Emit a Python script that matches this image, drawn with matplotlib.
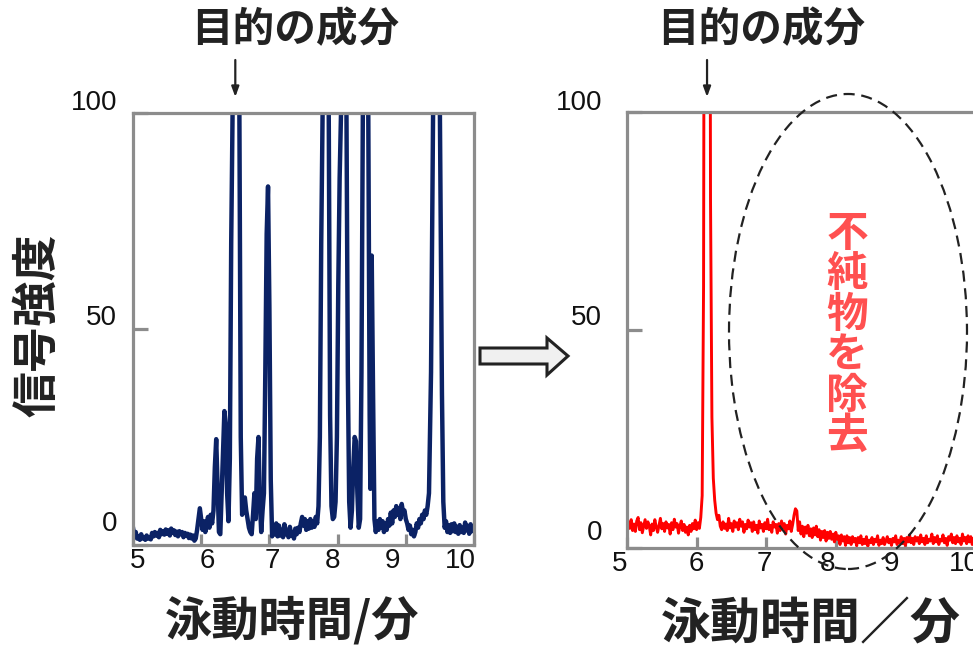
import matplotlib
matplotlib.use("Agg")
import matplotlib.pyplot as plt
import matplotlib.transforms as mtransforms
from matplotlib.patches import Ellipse, Polygon

# ---------------- data ----------------
left_t = [5.00, 5.02, 5.04, 5.06, 5.08, 5.10, 5.12, 5.14, 5.16, 5.18, 5.20, 5.22, 5.24, 5.26, 5.28,
          5.30, 5.32, 5.34, 5.36, 5.38, 5.40, 5.42, 5.44, 5.46, 5.48, 5.50, 5.52, 5.54, 5.56, 5.58,
          5.60, 5.62, 5.64, 5.66, 5.68, 5.70, 5.72, 5.74, 5.76, 5.78, 5.80, 5.82, 5.84, 5.86, 5.88,
          5.90, 5.92, 5.94, 5.96, 5.98, 6.00, 6.02, 6.04, 6.06, 6.08, 6.10, 6.12, 6.14, 6.16, 6.18,
          6.20, 6.22, 6.24, 6.26, 6.28, 6.30, 6.32, 6.34, 6.36, 6.38, 6.40, 6.42, 6.44, 6.46, 6.50,
          6.56, 6.58, 6.60, 6.62, 6.64, 6.66, 6.68, 6.70, 6.72, 6.74, 6.76, 6.78, 6.80, 6.82, 6.84,
          6.86, 6.88, 6.90, 6.92, 6.94, 6.96, 6.98, 7.00, 7.02, 7.04, 7.06, 7.08, 7.10, 7.12, 7.14,
          7.16, 7.18, 7.20, 7.22, 7.24, 7.26, 7.28, 7.30, 7.32, 7.34, 7.36, 7.38, 7.40, 7.42, 7.44,
          7.46, 7.48, 7.50, 7.52, 7.54, 7.56, 7.58, 7.60, 7.62, 7.64, 7.66, 7.68, 7.70, 7.72, 7.74,
          7.76, 7.78, 7.83, 7.87, 7.89, 7.91, 7.93, 7.95, 7.97, 7.99, 8.01, 8.03, 8.05, 8.09, 8.13,
          8.15, 8.17, 8.19, 8.21, 8.23, 8.25, 8.27, 8.29, 8.31, 8.33, 8.35, 8.37, 8.41, 8.45, 8.47,
          8.48, 8.50, 8.52, 8.54, 8.56, 8.58, 8.60, 8.62, 8.64, 8.66, 8.68, 8.70, 8.72, 8.74, 8.76,
          8.78, 8.80, 8.82, 8.84, 8.86, 8.88, 8.90, 8.92, 8.94, 8.96, 8.98, 9.00, 9.02, 9.04, 9.06,
          9.08, 9.10, 9.12, 9.14, 9.16, 9.18, 9.20, 9.22, 9.24, 9.26, 9.28, 9.30, 9.32, 9.34, 9.37,
          9.40, 9.45, 9.50, 9.53, 9.55, 9.57, 9.59, 9.61, 9.63, 9.65, 9.67, 9.69, 9.71, 9.73, 9.75,
          9.77, 9.79, 9.81, 9.83, 9.85, 9.87, 9.89, 9.91, 9.93, 9.95, 9.97, 10.00]
left_y = [4.0, 2.0, 3.0, 1.5, 2.0, 1.2, 2.5, 1.5, 1.8, 1.2, 2.2, 1.5, 1.8, 1.3, 2.8,
          2.0, 3.0, 2.2, 2.8, 1.8, 3.5, 2.5, 3.2, 2.4, 3.6, 2.6, 3.4, 2.2, 3.8, 2.8,
          3.4, 2.3, 3.1, 2.0, 3.2, 2.5, 3.0, 1.8, 2.8, 2.2, 2.6, 1.6, 2.4, 1.5, 2.2,
          1.0, 1.5, 3.5, 6.0, 8.5, 6.0, 3.5, 5.5, 3.0, 5.0, 6.5, 4.0, 7.0, 5.0, 8.0,
          18.0, 24.5, 14.0, 3.0, 2.5, 12.0, 22.0, 31.0, 28.0, 12.0, 5.5, 20.0, 70.0, 100.0, 300.0,
          100.0, 25.0, 7.0, 9.0, 11.0, 8.0, 6.0, 4.0, 3.0, 2.5, 7.0, 12.0, 6.0, 20.0, 25.0,
          10.0, 3.0, 8.0, 12.0, 40.0, 72.0, 83.0, 55.0, 15.0, 2.0, 4.0, 2.5, 5.0, 2.0, 4.5,
          2.2, 3.5, 1.8, 4.8, 2.5, 3.2, 1.8, 4.2, 2.2, 3.0, 1.5, 3.8, 2.5, 4.0, 3.0,
          5.0, 6.5, 4.5, 6.0, 3.5, 5.5, 3.8, 6.0, 4.0, 5.5, 4.2, 6.5, 5.0, 9.0, 25.0,
          70.0, 100.0, 300.0, 100.0, 30.0, 9.0, 6.0, 6.5, 10.0, 25.0, 60.0, 85.0, 100.0, 300.0, 100.0,
          40.0, 10.0, 4.0, 8.0, 18.0, 25.0, 24.0, 12.0, 4.0, 6.0, 40.0, 100.0, 300.0, 100.0, 30.0,
          13.0, 67.0, 35.0, 6.0, 3.0, 5.5, 3.5, 6.0, 4.0, 5.5, 3.0, 5.0, 3.5, 6.0, 4.5,
          7.5, 5.0, 8.0, 6.5, 9.0, 7.0, 8.5, 6.0, 9.5, 7.5, 8.0, 6.0, 5.0, 3.5, 4.5,
          2.5, 3.5, 2.0, 3.0, 5.0, 4.0, 6.0, 5.0, 7.0, 6.0, 8.0, 7.0, 9.0, 12.0, 40.0,
          100.0, 300.0, 100.0, 35.0, 10.0, 4.0, 5.5, 3.0, 4.5, 2.8, 4.8, 3.2, 5.0, 3.0, 4.2,
          2.6, 4.6, 3.0, 4.0, 2.8, 5.2, 3.4, 4.4, 2.6, 4.8, 3.2, 4.0]

right_t = [5.00, 5.02, 5.04, 5.06, 5.08, 5.10, 5.12, 5.14, 5.16, 5.18, 5.20, 5.22, 5.24, 5.26, 5.28,
           5.30, 5.32, 5.34, 5.36, 5.38, 5.40, 5.42, 5.44, 5.46, 5.48, 5.50, 5.52, 5.54, 5.56, 5.58,
           5.60, 5.62, 5.64, 5.66, 5.68, 5.70, 5.72, 5.74, 5.76, 5.78, 5.80, 5.82, 5.84, 5.86, 5.88,
           5.90, 5.92, 5.94, 5.96, 5.98, 6.00, 6.02, 6.04, 6.06, 6.08, 6.10, 6.12, 6.15, 6.18, 6.20,
           6.22, 6.24, 6.26, 6.28, 6.30, 6.32, 6.34, 6.36, 6.38, 6.40, 6.42, 6.44, 6.46, 6.48, 6.50,
           6.52, 6.54, 6.56, 6.58, 6.60, 6.62, 6.64, 6.66, 6.68, 6.70, 6.72, 6.74, 6.76, 6.78, 6.80,
           6.82, 6.84, 6.86, 6.88, 6.90, 6.92, 6.94, 6.96, 6.98, 7.00, 7.02, 7.04, 7.06, 7.08, 7.10,
           7.12, 7.14, 7.16, 7.18, 7.20, 7.22, 7.24, 7.26, 7.28, 7.30, 7.32, 7.34, 7.36, 7.38, 7.40,
           7.42, 7.44, 7.46, 7.48, 7.50, 7.52, 7.54, 7.56, 7.58, 7.60, 7.62, 7.64, 7.66, 7.68, 7.70,
           7.72, 7.74, 7.76, 7.78, 7.80, 7.82, 7.84, 7.86, 7.88, 7.90, 7.92, 7.94, 7.96, 7.98, 8.00,
           8.02, 8.04, 8.06, 8.08, 8.10, 8.12, 8.14, 8.16, 8.18, 8.20, 8.22, 8.24, 8.26, 8.28, 8.30,
           8.32, 8.34, 8.36, 8.38, 8.40, 8.42, 8.44, 8.46, 8.48, 8.50, 8.52, 8.54, 8.56, 8.58, 8.60,
           8.62, 8.64, 8.66, 8.68, 8.70, 8.72, 8.74, 8.76, 8.78, 8.80, 8.82, 8.84, 8.86, 8.88, 8.90,
           8.92, 8.94, 8.96, 8.98, 9.00, 9.02, 9.04, 9.06, 9.08, 9.10, 9.12, 9.14, 9.16, 9.18, 9.20,
           9.22, 9.24, 9.26, 9.28, 9.30, 9.32, 9.34, 9.36, 9.38, 9.40, 9.42, 9.44, 9.46, 9.48, 9.50,
           9.52, 9.54, 9.56, 9.58, 9.60, 9.62, 9.64, 9.66, 9.68, 9.70, 9.72, 9.74, 9.76, 9.78, 9.80,
           9.82, 9.84, 9.86, 9.88, 9.90, 9.92, 9.94, 9.96, 9.98, 10.00]
right_y = [3.5, 6.0, 4.5, 6.5, 4.0, 5.5, 3.8, 6.2, 7.0, 4.2, 5.8, 3.5, 5.0, 6.5, 4.5,
           6.0, 5.0, 3.0, 5.5, 4.0, 6.5, 4.8, 3.6, 5.2, 6.8, 4.4, 5.6, 3.8, 6.0, 4.6,
           5.4, 3.2, 5.8, 4.2, 6.6, 4.8, 5.6, 3.4, 5.0, 6.2, 4.0, 5.4, 3.6, 4.8, 3.0,
           5.2, 3.8, 5.6, 4.4, 6.4, 4.2, 5.8, 4.5, 7.0, 12.0, 60.0, 250.0, 400.0, 250.0, 80.0,
           30.0, 16.0, 11.0, 8.0, 6.5, 7.5, 5.0, 4.2, 6.0, 4.5, 5.5, 4.0, 6.8, 4.6, 5.6,
           3.8, 6.2, 4.8, 5.8, 4.2, 6.6, 5.0, 6.0, 3.6, 5.4, 4.4, 6.4, 4.8, 5.8, 3.8,
           6.0, 4.2, 5.2, 3.4, 6.2, 4.6, 5.4, 3.8, 5.8, 4.4, 6.6, 4.2, 5.2, 3.6, 6.0,
           4.8, 5.4, 3.4, 5.6, 4.0, 6.2, 4.6, 5.6, 3.2, 5.2, 4.4, 6.2, 3.8, 5.4, 7.5,
           9.0, 8.5, 4.0, 6.0, 3.2, 5.0, 2.6, 4.8, 3.4, 5.2, 2.8, 4.4, 2.4, 4.6, 3.0,
           5.0, 2.6, 4.2, 1.8, 3.8, 2.4, 4.0, 1.6, 3.6, 2.2, 3.8, 2.0, 3.2, 1.4, 3.6,
           2.0, 2.8, 0.8, 3.0, 1.6, 2.6, 0.6, 2.8, 1.2, 2.4, 0.8, 2.6, 1.4, 2.2, 0.5,
           2.4, 1.2, 2.8, 0.8, 2.0, 1.0, 2.6, 0.4, 1.8, 1.2, 2.4, 0.8, 2.0, 1.4, 2.8,
           0.6, 1.8, 1.0, 2.4, 0.8, 1.6, 2.6, 1.2, 2.0, 0.6, 2.2, 1.4, 2.8, 0.8, 1.8,
           1.2, 2.6, 1.0, 2.2, 0.6, 2.4, 1.4, 3.0, 1.2, 2.2, 0.8, 2.6, 1.6, 2.4, 1.0,
           3.0, 1.4, 2.2, 0.8, 2.8, 1.2, 2.0, 1.6, 3.2, 1.0, 2.4, 1.4, 2.8, 0.8, 2.0,
           1.6, 3.0, 1.2, 2.2, 0.6, 2.6, 1.8, 3.2, 1.2, 2.4, 1.0, 2.8, 1.4, 2.2, 0.8,
           3.2, 1.6, 2.4, 1.0, 2.8, 1.4, 2.6, 0.8, 2.2, 1.6]

x_ticks = [5, 6, 7, 8, 9, 10]
y_ticks = [0, 50, 100]

title_text = "目的の成分"
ylabel_text = "信号強度"
xlabel_left = "泳動時間/分"
xlabel_right = "泳動時間／分"
impurity_text = "不純物を除去"
target_left = 6.50
target_right = 6.15

# ---------------- style ----------------
CJK = ["Noto Sans CJK JP", "DejaVu Sans"]
NUM = ["Liberation Sans", "DejaVu Sans"]
SPINE = "#8c8c8c"
W, H = 973, 650

fig = plt.figure(figsize=(W / 100, H / 100), dpi=100)

def px_off(dx, dy):
    return mtransforms.ScaledTranslation(dx / 100, dy / 100, fig.dpi_scale_trans)

def setup_axes(ax, xoffs, yoffs, ylab_x):
    ax.set_xlim(5, 10)
    ax.set_ylim(0, 100)
    for s in ax.spines.values():
        s.set_color(SPINE)
        s.set_linewidth(2.3)
    ax.set_xticks(x_ticks)
    ax.set_yticks(y_ticks)
    ax.tick_params(axis="x", direction="in", length=8, width=2.3, color=SPINE,
                   labelbottom=False)
    ax.tick_params(axis="y", direction="in", length=11, width=2.3, color=SPINE,
                   labelleft=False)
    btrans = mtransforms.blended_transform_factory(ax.transData, ax.transAxes)
    for v, dx in zip(x_ticks, xoffs):
        ax.text(v, 0, str(v), transform=btrans + px_off(dx, -16), ha="center", va="center",
                fontsize=20, family=NUM, color="#111111", clip_on=False)
    ltrans = mtransforms.blended_transform_factory(ax.transAxes, ax.transData)
    for v, dy in zip(y_ticks, yoffs):
        ax.text(0, v, str(v), transform=ltrans + px_off(ylab_x, dy), ha="right", va="center",
                fontsize=20, family=NUM, color="#111111", clip_on=False)

# left axes
ax1 = fig.add_axes([133 / W, (H - 545) / H, 341 / W, 432 / H])
ax1.plot(left_t, left_y, color="#0b2265", lw=3.2, solid_joinstyle="round")
setup_axes(ax1, [5, 6, 2.5, -5, -13, -14], [21, 11, 10], -16)

# right axes
ax2 = fig.add_axes([627 / W, (H - 548) / H, 348 / W, 436 / H])
ax2.plot(right_t, right_y, color="#ff0000", lw=2.1)
setup_axes(ax2, [-7, 0, -2, -8, -14, -11], [15, 12, 9], -25)

# titles
fig.text(295 / W, 1 - 30 / H, title_text, family=CJK, fontweight="bold", fontsize=30,
         ha="center", va="center", color="#222222")
fig.text(761 / W, 1 - 30 / H, title_text, family=CJK, fontweight="bold", fontsize=30,
         ha="center", va="center", color="#222222")

# small down arrows to target component
for ax, tx in ((ax1, target_left), (ax2, target_right)):
    tr = mtransforms.blended_transform_factory(ax.transData, fig.transFigure)
    ax.annotate("", xy=(tx, 1 - 97 / H), xytext=(tx, 1 - 60 / H),
                xycoords=tr, textcoords=tr,
                arrowprops=dict(arrowstyle="-|>,head_length=0.6,head_width=0.22",
                                color="#222222", lw=1.6, shrinkA=0, shrinkB=0),
                annotation_clip=False)

# y label
fig.text(38 / W, 1 - 325 / H, ylabel_text, family=CJK, fontweight="bold", fontsize=33,
         rotation=90, ha="center", va="center", color="#222222")

# x labels
fig.text(292 / W, 1 - 621 / H, xlabel_left, family=CJK, fontweight="bold", fontsize=34,
         ha="center", va="center", color="#222222")
fig.text(811 / W, 1 - 625 / H, xlabel_right, family=CJK, fontweight="bold", fontsize=36,
         ha="center", va="center", color="#222222")

# impurity removed annotation
fig.text(847 / W, 1 - 335 / H, "\n".join(impurity_text), family=CJK, fontweight="bold",
         fontsize=30, ha="center", va="center", color="#ff5050", linespacing=0.95)

# dashed ellipse (figure pixel space)
pix = mtransforms.Affine2D().scale(1 / W, 1 / H) + fig.transFigure
ell = Ellipse((848, H - 331.5), 238, 475, transform=pix, fill=False,
              edgecolor="#222222", lw=1.6, linestyle=(0, (5, 3)))
fig.patches.append(ell)

# block arrow between panels
arrow_pts = [(480, 348), (547, 348), (547, 338), (568, 356), (547, 375), (547, 364), (480, 364)]
poly = Polygon([(x, H - y) for x, y in arrow_pts], closed=True, transform=pix,
               facecolor="#f0f0f0", edgecolor="#222222", lw=2.2, joinstyle="miter")
fig.patches.append(poly)

fig.savefig("out.png", dpi=100)
